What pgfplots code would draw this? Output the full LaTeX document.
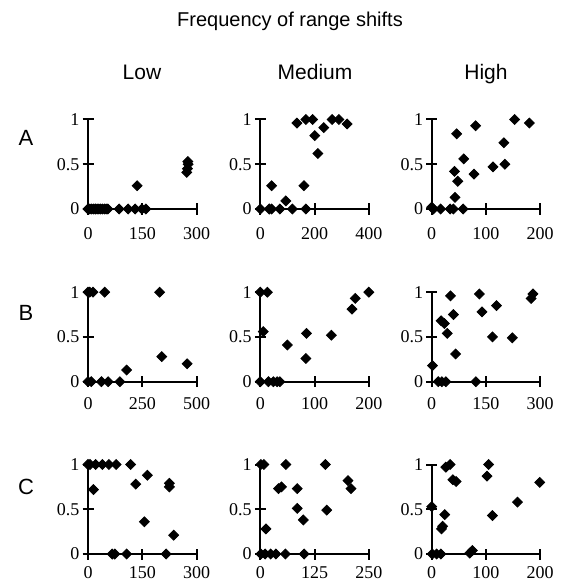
\documentclass[border=0pt]{standalone}
\usepackage{fontspec}
\setmainfont{Liberation Serif}
\setsansfont{Liberation Sans}
\usepackage{pgfplots}
\pgfplotsset{compat=1.18}

% one small panel of the 3x3 grid
\pgfplotsset{
  panel/.style={
    scale only axis, width=54.25pt, height=44.75pt,
    anchor=south west,
    xmin=0, ymin=0, ymax=1,
    axis x line=bottom, axis y line=left,
    axis line style={-, line width=1pt, black},
    tick align=center, major tick length=5.5pt,
    tick style={line width=1pt, black},
    ytick={0,0.5,1},
    tick label style={font=\fontsize{9}{9}\selectfont},
    /pgf/number format/assume math mode=true,
    yticklabel style={xshift=2pt},
    clip=false,
    enlargelimits=false,
  },
  rowA/.style={xticklabel style={yshift=-3pt}},
  rowB/.style={xticklabel style={yshift=-1.8pt}},
  rowC/.style={xticklabel style={yshift=0pt}},
  dots/.style={only marks, mark=square*, mark size=1.75pt,
    mark options={rotate=45, fill=black, draw=black}},
}

\begin{document}
\begin{tikzpicture}
\path[use as bounding box] (0,0) rectangle (281pt,-294pt);

\node[font=\sffamily\fontsize{10}{12}\selectfont, anchor=base] at (145pt,-13.5pt) {Frequency of range shifts};
\node[font=\sffamily\fontsize{10.5}{12}\selectfont, anchor=base] at (71pt,-40pt) {Low};
\node[font=\sffamily\fontsize{10.5}{12}\selectfont, anchor=base] at (157.5pt,-40pt) {Medium};
\node[font=\sffamily\fontsize{10.5}{12}\selectfont, anchor=base] at (243pt,-40pt) {High};
\node[font=\sffamily\fontsize{11}{12}\selectfont, anchor=base] at (13pt,-73pt) {A};
\node[font=\sffamily\fontsize{11}{12}\selectfont, anchor=base] at (13pt,-160pt) {B};
\node[font=\sffamily\fontsize{11}{12}\selectfont, anchor=base] at (13pt,-247pt) {C};

% row A
\begin{axis}[panel, rowA, at={(44pt,-104.5pt)}, xmax=300, xtick={0,150,300}]
  \addplot[dots] coordinates {(0,0)(5,0)(10,0)(15,0)(20,0)(25,0)(30,0)(35,0)(40,0)(45,0)(50,0)(55,0)
    (86,0)(111,0)(130,0)(149,0)(160,0)(136,0.26)(276,0.53)(277,0.50)(275,0.45)(273,0.41)};
\end{axis}
\begin{axis}[panel, rowA, at={(130.15pt,-104.5pt)}, xmax=400, xtick={0,200,400}]
  \addplot[dots] coordinates {(0,0)(33,0)(42,0)(72,0)(118,0)(168,0)(42,0.26)(94,0.09)(161,0.26)
    (135,0.96)(168,1)(193,1)(201,0.82)(212,0.62)(234,0.91)(265,1)(290,1)(320,0.95)};
\end{axis}
\begin{axis}[panel, rowA, at={(215.85pt,-104.5pt)}, xmax=200, xtick={0,100,200}]
  \addplot[dots] coordinates {(0,0.02)(3,0)(16.5,0)(34,0)(40,0)(58,0)(43,0.13)(42,0.42)(48,0.31)
    (46,0.84)(59,0.56)(78,0.39)(81,0.93)(113,0.47)(135,0.50)(133,0.74)(153,1)(180,0.96)};
\end{axis}

% row B
\begin{axis}[panel, rowB, at={(44pt,-190.85pt)}, xmax=500, xtick={0,250,500}]
  \addplot[dots] coordinates {(0,1)(8,1)(23,1)(77,1)(0,0)(15,0)(62,0)(93,0)(147,0)(178,0.13)
    (330,1)(340,0.28)(457,0.2)};
\end{axis}
\begin{axis}[panel, rowB, at={(130.15pt,-190.85pt)}, xmax=200, xtick={0,100,200}]
  \addplot[dots] coordinates {(0,1)(13,1)(5.5,0.56)(0,0)(15,0)(24,0)(31,0)(36,0)(50,0.41)(85,0.54)
    (84,0.26)(131,0.52)(169,0.81)(175,0.93)(200,1)};
\end{axis}
\begin{axis}[panel, rowB, at={(215.85pt,-190.85pt)}, xmax=300, xtick={0,150,300}]
  \addplot[dots] coordinates {(2,0.18)(18,0)(28,0)(39,0)(122,0)(26,0.68)(35,0.65)(43,0.54)(52,0.96)
    (60,0.75)(66,0.31)(132,0.98)(139,0.78)(168,0.5)(179,0.85)(223,0.49)(275,0.93)(280,0.98)};
\end{axis}

% row C
\begin{axis}[panel, rowC, at={(44pt,-277pt)}, xmax=300, xtick={0,150,300}]
  \addplot[dots] coordinates {(0,1)(5.5,1)(21,1)(40,1)(58,1)(78,1)(118,1)(15,0.72)(132,0.78)
    (164,0.88)(156,0.36)(225,0.79)(225,0.75)(237,0.21)(67,0)(74,0)(107,0)(216,0)};
\end{axis}
\begin{axis}[panel, rowC, at={(130.15pt,-277pt)}, xmax=250, xtick={0,125,250}]
  \addplot[dots] coordinates {(1.5,1)(8.4,1)(59,1)(150,1)(13,0.28)(42,0.73)(49,0.75)(85,0.73)
    (85,0.51)(99,0.38)(153,0.49)(202,0.82)(209,0.73)(1.5,0)(11,0)(24,0)(36,0)(58,0)(101,0)};
\end{axis}
\begin{axis}[panel, rowC, at={(215.85pt,-277pt)}, xmax=200, xtick={0,100,200}]
  \addplot[dots] coordinates {(0,0.53)(1,0)(9,0)(17,0)(18,0.28)(20,0.31)(24,0.44)(26,0.97)(34,1)
    (39,0.83)(45,0.81)(70,0.01)(75,0.04)(105,1)(102,0.87)(112,0.43)(158,0.58)(199,0.8)};
\end{axis}
\end{tikzpicture}
\end{document}
